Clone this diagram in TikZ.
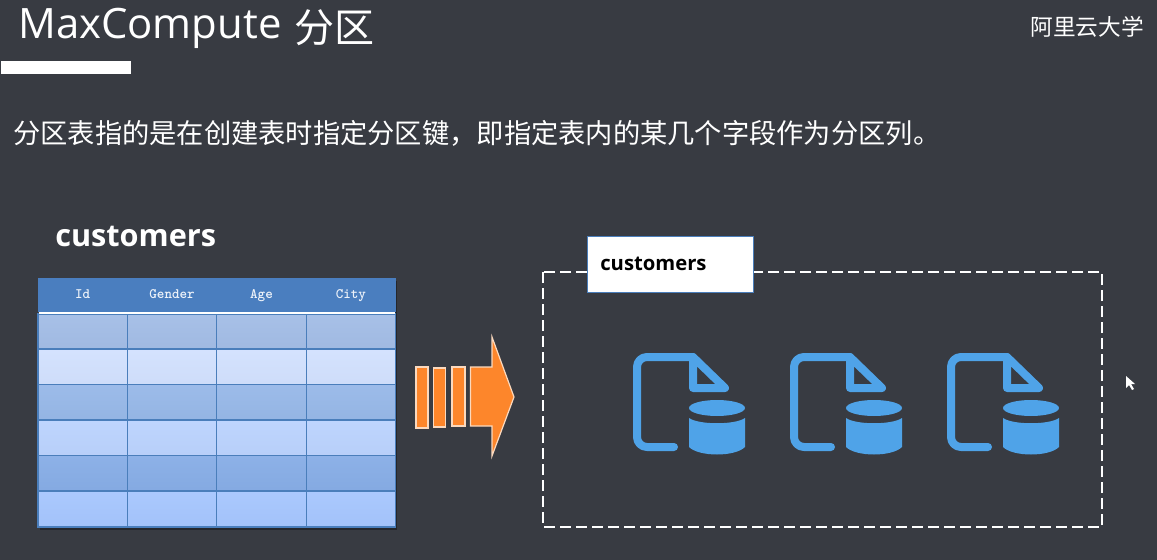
\documentclass[tikz,border=0pt]{standalone}
\usepackage{fontspec}
\setmainfont{Noto Sans CJK SC}
\newfontfamily\latinfont{Open Sans}
\usetikzlibrary{positioning}
\definecolor{slidebg}{HTML}{383B42}
\definecolor{tableline}{HTML}{4A7EBB}
\definecolor{headblue}{HTML}{4A7EBF}
\definecolor{iconblue}{HTML}{4FA3E8}
\definecolor{arroworange}{HTML}{FD862B}
\definecolor{arrowedge}{HTML}{FBD9BE}
\definecolor{rowa}{HTML}{A3BDE6}
\definecolor{rowb}{HTML}{D2E1FE}
\definecolor{rowc}{HTML}{97B8E8}
\definecolor{rowd}{HTML}{BBD3FE}
\definecolor{rowe}{HTML}{87ADE6}
\definecolor{rowf}{HTML}{A6C6FE}
\tikzset{label/.style = {text=white, inner sep=0pt, anchor=west}}
\tikzset{headcell/.style = {minimum width=89.25*0.75pt, minimum height=34*0.75pt, inner sep=0pt, text height=7.5pt, text depth=2pt, text=white!90!headblue, font=\ttfamily\bfseries\fontsize{10.8}{12}\selectfont}}
\tikzset{bodycell/.style = {draw=tableline, line width=0.9pt, minimum width=89.25*0.75pt, minimum height=35.5*0.75pt, inner sep=0pt}}
\tikzset{bar/.style = {draw=arrowedge, line width=0.9pt, fill=arroworange}}
\tikzset{fileicon/.pic = {
  \draw[iconblue, line width=6pt, line cap=round, line join=round]
    (41,94) -- (14,94) arc[start angle=270, end angle=180, x radius=10, y radius=-10]
    -- (4,14) arc[start angle=180, end angle=90, x radius=10, y radius=-10] -- (60,4);
  \draw[iconblue, line width=6pt, line cap=round, line join=round]
    (60,4) -- (92,35) -- (60,35) -- cycle;
  \fill[iconblue] (84,55) ellipse [x radius=28, y radius=8];
  \fill[iconblue] (56,65) .. controls (66,72) and (102,72) .. (112,65) -- (112,94)
    .. controls (102,104) and (66,104) .. (56,94) -- cycle;
}}

\begin{document}
\begin{tikzpicture}[x=0.75pt, y=-0.75pt, >=latex]
  \useasboundingbox (0,0) rectangle (1157,560);
  \fill[slidebg] (0,0) rectangle (1157,560);

  % header of the slide
  \node [label, font=\latinfont\fontsize{31.4}{36}\selectfont] (title) at (18,28) {MaxCompute};
  \node [label, font=\fontsize{30}{36}\selectfont, right=12*0.75pt of title.east] (titlecjk) {分区};
  \node [label, anchor=east, font=\fontsize{17}{20}\selectfont] (brand) at (1144,27) {阿里云大学};
  \node [fill=white, minimum width=130*0.75pt, minimum height=13*0.75pt, inner sep=0pt, anchor=north west] (rule) at (1,61) {};
  \node [label, font=\fontsize{20.45}{24}\selectfont] (intro) at (13,133) {分区表指的是在创建表时指定分区键，即指定表内的某几个字段作为分区列。};

  % table on the left
  \node [label, font=\latinfont\bfseries\fontsize{23}{28}\selectfont] (leftname) at (55,236) {customers};
  \fill[black!35!slidebg] (40,281) rectangle (397,530);
  \fill[headblue] (38,278) rectangle (395.5,312);
  \foreach \c/\name in {1/Id, 2/Gender, 3/Age, 4/City}
    \node [headcell] (head\c) at ({38+89.4*(\c-0.5)},295) {\name};
  \foreach \r/\ytop/\ybot/\col in {1/314/349/rowa, 2/349/384.5/rowb, 3/384.5/420/rowc, 4/420/455.5/rowd, 5/455.5/491/rowe, 6/491/527/rowf}
    \foreach \c in {1,2,3,4}
      \node [bodycell, minimum height={(\ybot-\ytop)*0.75pt}, top color=\col!95!white, bottom color=\col!98!black] (cell\r\c) at ({38+89.4*(\c-0.5)},{(\ytop+\ybot)/2}) {};
  \draw[white, line width=1.9pt] (38.5,313) -- (395,313);

  % arrow
  \draw[bar] (416,367) rectangle (428,428);
  \draw[bar] (433.5,368) rectangle (445.5,427);
  \draw[bar] (452,367) rectangle (465,426);
  \draw[bar, line join=miter] (470.5,367) -- (492,367) -- (492,337) -- (514,397) -- (492,456) -- (492,426) -- (470.5,426) -- cycle;

  % partitioned table on the right
  \draw[white, line width=1.5pt, dash pattern=on 8pt off 4pt] (543,272) rectangle (1102,527);
  \node [draw=tableline, fill=white, line width=1pt, minimum width=166*0.75pt, minimum height=56*0.75pt, inner sep=0pt, anchor=north west] (tag) at (587,236) {};
  \node [label, text=black, font=\latinfont\bfseries\fontsize{15.2}{18}\selectfont] (tagname) at (600,264) {customers};
  \foreach \x in {633,790,947}
    \pic at (\x,353) {fileicon};

  % mouse pointer
  \fill[white] (1126,376) -- (1126,388) -- (1129,385) -- (1132,390) -- (1134,389) -- (1131,384) -- (1135,384) -- cycle;
\end{tikzpicture}
\end{document}
